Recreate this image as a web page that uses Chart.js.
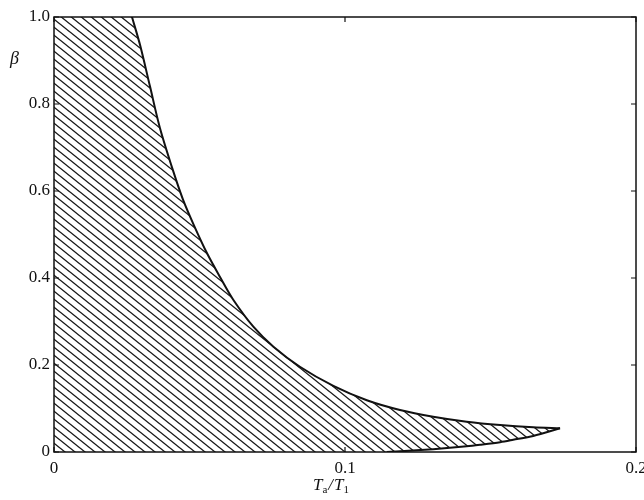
<!DOCTYPE html>
<html>
<head>
<meta charset="utf-8">
<script src="https://cdn.jsdelivr.net/npm/chart.js@4.4.1/dist/chart.umd.min.js"></script>
<style>
  html, body { margin: 0; padding: 0; background: #fff; }
  #wrap { width: 644px; height: 500px; }
</style>
</head>
<body>
<div id="wrap"><canvas id="c"></canvas></div>
<script>
// upper boundary of the hatched region (Ta/T1 -> beta)
const upperX = [0.0268, 0.0296, 0.033, 0.0364, 0.041, 0.0444, 0.0479, 0.0525, 0.057, 0.0616, 0.0685,
                0.0754, 0.0845, 0.096, 0.1075, 0.1189, 0.1303, 0.1418, 0.1533, 0.1647, 0.1739];
const upperY = [1.0, 0.935, 0.84, 0.745, 0.645, 0.579, 0.524, 0.458, 0.403, 0.35, 0.288,
                0.242, 0.196, 0.152, 0.119, 0.0966, 0.0811, 0.0697, 0.062, 0.0568, 0.0545];
// lower boundary, from the tip back to the axis
const lowerX = [0.1739, 0.1647, 0.1578, 0.1533, 0.1464, 0.1418, 0.1303, 0.1189, 0.1143];
const lowerY = [0.0545, 0.037, 0.028, 0.0225, 0.0165, 0.013, 0.0065, 0.0015, 0];
// tick labels
const xTicks = [0, 0.1, 0.2];
const yTicks = [0, 0.2, 0.4, 0.6, 0.8, 1.0];

const serif = '"Liberation Serif", "DejaVu Serif", serif';

function toPoints(xs, ys) {
    return xs.map((x, i) => ({ x: x, y: ys[i] }));
}

// 斜线填充图案
function makeHatch() {
    const w = 10, h = 8;
    const c = document.createElement('canvas');
    c.width = w;
    c.height = h;
    const g = c.getContext('2d');
    g.strokeStyle = '#151515';
    g.lineWidth = 1.3;
    for (let k = -1; k <= 1; k++) {
        g.beginPath();
        g.moveTo(k * w - w, -h);
        g.lineTo(k * w + 2 * w, 2 * h);
        g.stroke();
    }
    return g.createPattern(c, 'repeat');
}

// closed shape: origin -> top-left corner -> upper curve -> lower curve
const shape = [{ x: 0, y: 0 }, { x: 0, y: 1 }]
    .concat(toPoints(upperX, upperY))
    .concat(toPoints(lowerX.slice(1), lowerY.slice(1)));

// frame, inward ticks and axis titles
const framePlugin = {
    id: 'frame',
    afterDraw(chart) {
        const { ctx, chartArea: a, scales: { x, y } } = chart;
        ctx.save();
        ctx.strokeStyle = '#111';
        ctx.lineWidth = 1.5;
        ctx.strokeRect(a.left, a.top, a.right - a.left, a.bottom - a.top);

        ctx.lineWidth = 1.2;
        ctx.beginPath();
        xTicks.forEach(v => {
            const px = x.getPixelForValue(v);
            ctx.moveTo(px, a.bottom); ctx.lineTo(px, a.bottom - 5);
            ctx.moveTo(px, a.top); ctx.lineTo(px, a.top + 5);
        });
        yTicks.forEach(v => {
            const py = y.getPixelForValue(v);
            ctx.moveTo(a.left, py); ctx.lineTo(a.left + 5, py);
            ctx.moveTo(a.right, py); ctx.lineTo(a.right - 5, py);
        });
        ctx.stroke();

        ctx.fillStyle = '#111';
        ctx.textBaseline = 'alphabetic';
        ctx.textAlign = 'left';
        ctx.font = 'italic 18px ' + serif;
        ctx.fillText('β', 10, 64);

        // Ta/T1
        let cx = 313;
        const base = 490;
        const big = 'italic 17px ' + serif;
        const small = '11px ' + serif;
        ctx.font = big; ctx.fillText('T', cx, base); cx += ctx.measureText('T').width;
        ctx.font = small; ctx.fillText('a', cx, base + 3); cx += ctx.measureText('a').width + 1;
        ctx.font = big; ctx.fillText('/', cx, base); cx += ctx.measureText('/').width + 1;
        ctx.fillText('T', cx, base); cx += ctx.measureText('T').width;
        ctx.font = small; ctx.fillText('1', cx, base + 3);
        ctx.restore();
    }
};

const ctx = document.getElementById('c').getContext('2d');
new Chart(ctx, {
    type: 'scatter',
    data: {
        datasets: [
            {
                data: toPoints(upperX, upperY),
                showLine: true,
                borderColor: '#111',
                borderWidth: 2,
                pointRadius: 0,
                tension: 0.3,
                fill: false
            },
            {
                data: toPoints(lowerX, lowerY),
                showLine: true,
                borderColor: '#111',
                borderWidth: 2,
                pointRadius: 0,
                tension: 0.3,
                fill: false
            },
            {
                data: shape,
                showLine: true,
                borderWidth: 0,
                borderColor: 'rgba(0,0,0,0)',
                pointRadius: 0,
                tension: 0,
                backgroundColor: makeHatch(),
                fill: 'shape'
            }
        ]
    },
    options: {
        responsive: true,
        maintainAspectRatio: false,
        animation: false,
        layout: { padding: { top: 17, right: 8, left: 0, bottom: 0 } },
        plugins: {
            legend: { display: false },
            tooltip: { enabled: false }
        },
        scales: {
            x: {
                type: 'linear',
                min: 0,
                max: 0.2,
                afterFit: s => { s.height = 48; s.paddingLeft = 0; s.paddingRight = 0; },
                afterBuildTicks: s => { s.ticks = xTicks.map(v => ({ value: v })); },
                grid: { display: false, drawTicks: false },
                border: { display: false },
                ticks: {
                    padding: 6,
                    color: '#111',
                    font: { family: serif, size: 17 },
                    maxRotation: 0,
                    callback: v => v === 0 ? '0' : v.toFixed(1)
                }
            },
            y: {
                type: 'linear',
                min: 0,
                max: 1,
                afterFit: s => { s.width = 54; s.paddingTop = 0; s.paddingBottom = 0; },
                afterBuildTicks: s => { s.ticks = yTicks.map(v => ({ value: v })); },
                grid: { display: false, drawTicks: false },
                border: { display: false },
                ticks: {
                    padding: 4,
                    color: '#111',
                    font: { family: serif, size: 17 },
                    callback: v => v === 0 ? '0' : v.toFixed(1)
                }
            }
        }
    },
    plugins: [framePlugin]
});
</script>
</body>
</html>
